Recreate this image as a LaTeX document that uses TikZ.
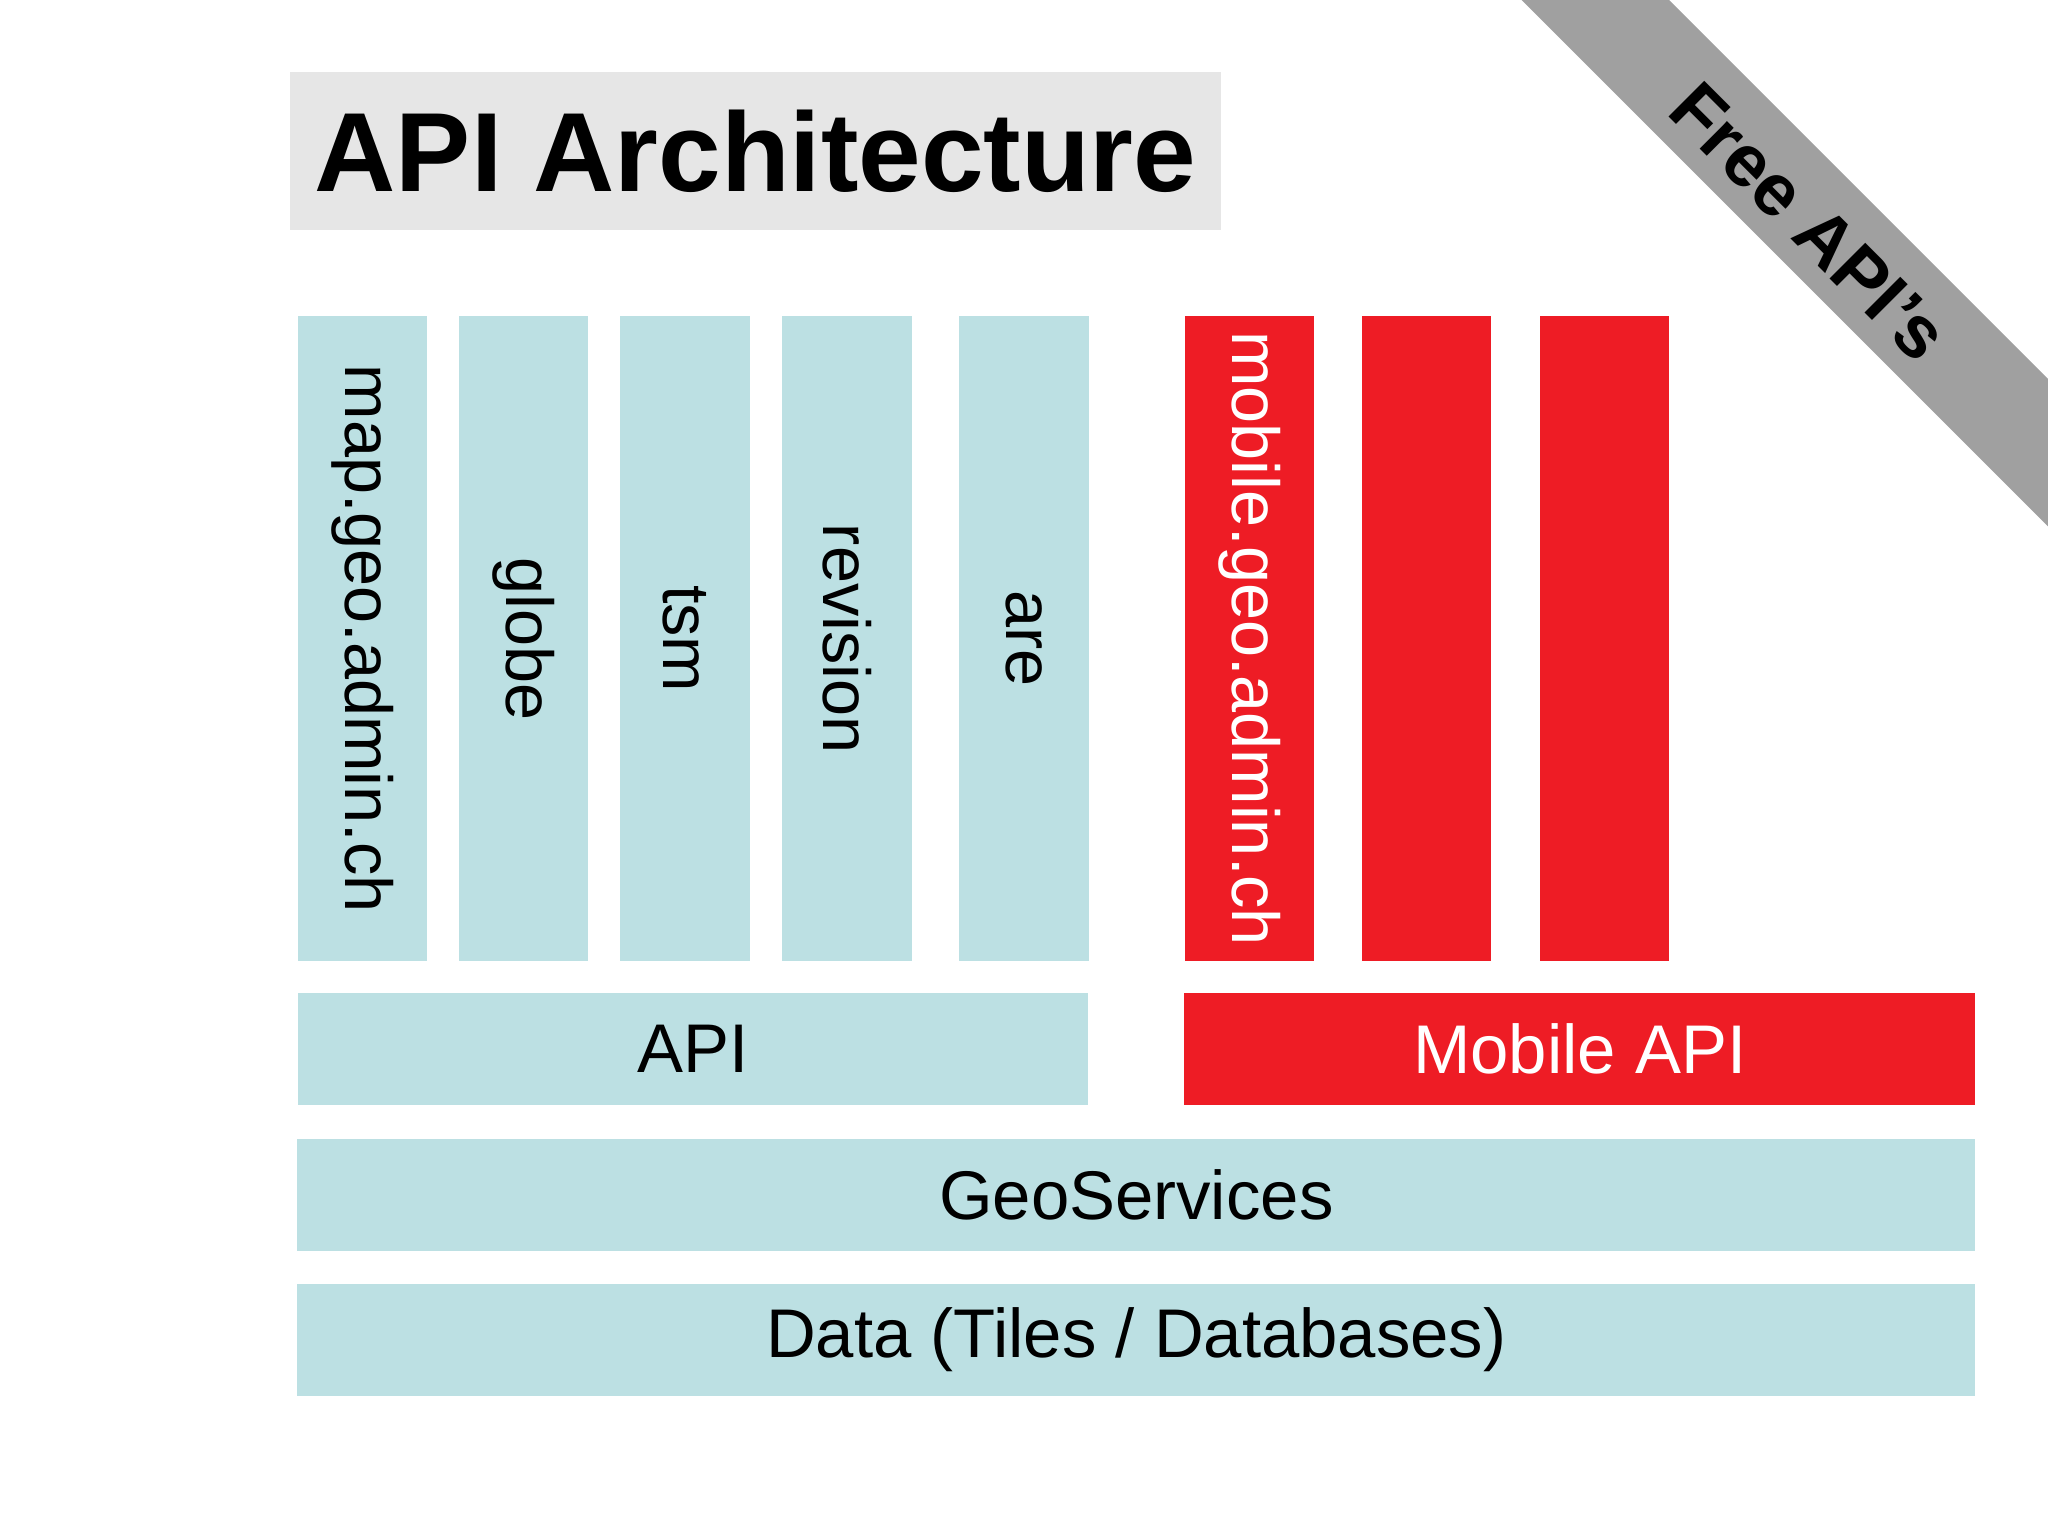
\documentclass[tikz,border=0pt]{standalone}
\usepackage{fontspec}
\setmainfont{Liberation Sans}
\definecolor{paleblue}{HTML}{BCE0E3}
\definecolor{swissred}{HTML}{EE1C25}
\definecolor{titlegray}{HTML}{E6E6E6}
\definecolor{ribbongray}{HTML}{A0A0A0}
\tikzset{
  col/.style={rotate=-90,minimum width=4.94cm,minimum height=0.99cm,inner sep=0pt,font=\fontsize{14.5}{14.5}\selectfont},
  bluecol/.style={col,fill=paleblue,text=black},
  redcol/.style={col,fill=swissred,text=white},
  bar/.style={minimum height=0.86cm,inner sep=0pt,font=\fontsize{15}{15}\selectfont}
}
\begin{document}
\begin{tikzpicture}[x=0.01cm,y=-0.01cm]
    \useasboundingbox (0,0) rectangle (1568,1176);
    \fill[ribbongray] (1165,0) -- (1278,0) -- (1568,290) -- (1568,403) -- cycle;
    \node[rotate=-45,font=\bfseries\fontsize{16}{16}\selectfont] (free) at (1385,170) {Free API's};
    \node[fill=titlegray,minimum width=7.13cm,minimum height=1.21cm,inner sep=0pt,font=\bfseries\fontsize{24.5}{24.5}\selectfont] (title) at (578.5,115.5) {API Architecture};
    \node[bluecol] (map) at (277.5,489) {map.geo.admin.ch};
    \node[bluecol] (globe) at (401,489) {globe};
    \node[bluecol] (tsm) at (524.5,489) {tsm};
    \node[bluecol] (rev) at (648.5,489) {revision};
    \node[bluecol] (are) at (784,489) {are};
    \node[redcol] (mobile) at (956.5,489) {mobile.geo.admin.ch};
    \node[redcol] (red2) at (1092,489) {};
    \node[redcol] (red3) at (1228.5,489) {};
    \node[bar,fill=paleblue,minimum width=6.05cm] (api) at (530.5,803) {API};
    \node[bar,fill=swissred,text=white,minimum width=6.05cm] (mapi) at (1209.5,803) {Mobile API};
    \node[bar,fill=paleblue,minimum width=12.84cm] (geo) at (870,915) {GeoServices};
    \node[bar,fill=paleblue,minimum width=12.84cm] (data) at (870,1026) {Data (Tiles / Databases)};
\end{tikzpicture}
\end{document}
